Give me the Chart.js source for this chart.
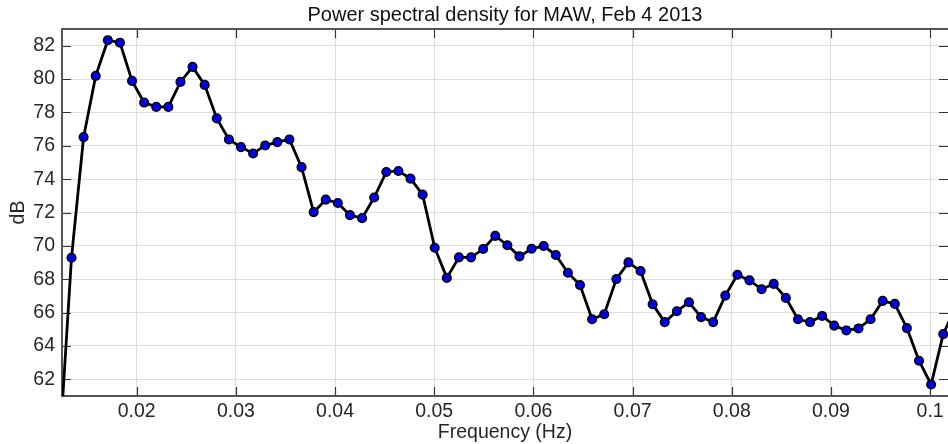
<!DOCTYPE html>
<html>
<head>
<meta charset="utf-8">
<script src="https://cdn.jsdelivr.net/npm/chart.js@4.4.1/dist/chart.umd.min.js"></script>
<style>
  html, body { margin: 0; padding: 0; background: #fff; }
  #wrap { width: 948px; height: 444px; }
</style>
</head>
<body>
<div id="wrap"><canvas id="psd" width="948" height="444"></canvas></div>
<script>
// frequency bins (Hz), df = 1/819.2
const freqHz = [
  0.012207, 0.013428, 0.014648, 0.015869, 0.017090, 0.018311, 0.019531, 0.020752, 0.021973, 0.023193,
  0.024414, 0.025635, 0.026855, 0.028076, 0.029297, 0.030518, 0.031738, 0.032959, 0.034180, 0.035400,
  0.036621, 0.037842, 0.039063, 0.040283, 0.041504, 0.042725, 0.043945, 0.045166, 0.046387, 0.047607,
  0.048828, 0.050049, 0.051270, 0.052490, 0.053711, 0.054932, 0.056152, 0.057373, 0.058594, 0.059814,
  0.061035, 0.062256, 0.063477, 0.064697, 0.065918, 0.067139, 0.068359, 0.069580, 0.070801, 0.072021,
  0.073242, 0.074463, 0.075684, 0.076904, 0.078125, 0.079346, 0.080566, 0.081787, 0.083008, 0.084229,
  0.085449, 0.086670, 0.087891, 0.089111, 0.090332, 0.091553, 0.092773, 0.093994, 0.095215, 0.096436,
  0.097656, 0.098877, 0.100098, 0.101318, 0.102539
]

// power spectral density (dB)
const psdDb = [
  57.7, 69.29, 76.52, 80.19, 82.33, 82.18, 79.89, 78.59, 78.33, 78.33,
  79.83, 80.73, 79.65, 77.64, 76.38, 75.92, 75.54, 76.02, 76.22, 76.38,
  74.72, 72.02, 72.77, 72.57, 71.84, 71.66, 72.9, 74.43, 74.49, 74.03,
  73.07, 69.89, 68.08, 69.31, 69.31, 69.81, 70.6, 70.04, 69.37, 69.83,
  69.99, 69.45, 68.39, 67.65, 65.6, 65.9, 68.01, 69.01, 68.49, 66.5,
  65.43, 66.08, 66.62, 65.73, 65.43, 67.02, 68.27, 67.93, 67.4, 67.72,
  66.88, 65.6, 65.43, 65.8, 65.22, 64.93, 65.05, 65.6, 66.7, 66.52,
  65.07, 63.11, 61.69, 64.71, 66.3
]

const xTicks = [0.02, 0.03, 0.04, 0.05, 0.06, 0.07, 0.08, 0.09, 0.1]
const xTickLabels = ['0.02', '0.03', '0.04', '0.05', '0.06', '0.07', '0.08', '0.09', '0.1']
const yTicks = [62, 64, 66, 68, 70, 72, 74, 76, 78, 80, 82]

const fontFamily = '"Liberation Sans", Arial, Helvetica, sans-serif'
const tickLen = 9

// box round the plot plus inward tick marks on all four sides
const axesFrame = {
  id: 'axesFrame',
  beforeDatasetsDraw(chart) {
    const {ctx, chartArea: {left, right, top, bottom}, scales: {x, y}} = chart
    ctx.save()
    ctx.strokeStyle = '#333'
    ctx.lineWidth = 1.2
    ctx.beginPath()
    xTicks.forEach(v => {
      const px = Math.round(x.getPixelForValue(v)) + 0.5
      ctx.moveTo(px, bottom)
      ctx.lineTo(px, bottom - tickLen)
      ctx.moveTo(px, top)
      ctx.lineTo(px, top + tickLen)
    })
    yTicks.forEach(v => {
      const py = Math.round(y.getPixelForValue(v)) + 0.5
      ctx.moveTo(left, py)
      ctx.lineTo(left + tickLen, py)
      ctx.moveTo(right, py)
      ctx.lineTo(right - tickLen, py)
    })
    ctx.stroke()

    ctx.strokeStyle = '#555'
    ctx.lineWidth = 2
    ctx.beginPath()
    ctx.moveTo(right + 1, top)
    ctx.lineTo(left, top)
    ctx.lineTo(left, bottom)
    ctx.lineTo(right + 1, bottom)
    ctx.stroke()
    ctx.restore()
  }
}

new Chart(document.getElementById('psd'), {
  type: 'line',
  data: {
    datasets: [{
      data: freqHz.map((f, i) => ({x: f, y: psdDb[i]})),
      borderColor: '#000',
      borderWidth: 2.8,
      tension: 0,
      clip: 0,
      pointRadius: 4.3,
      pointBorderWidth: 1.5,
      pointBackgroundColor: '#0000e8',
      pointBorderColor: '#000'
    }]
  },
  options: {
    responsive: false,
    animation: false,
    layout: {padding: 0, autoPadding: false},
    plugins: {
      legend: {display: false},
      tooltip: {enabled: false},
      title: {
        display: true,
        fullSize: false,
        text: 'Power spectral density for MAW, Feb 4 2013',
        color: '#111',
        font: {family: fontFamily, size: 20, weight: 'normal', lineHeight: 1.2},
        padding: {top: 3, bottom: 2}
      }
    },
    scales: {
      x: {
        type: 'linear',
        min: 0.01247,
        max: 0.1018,
        afterBuildTicks: scale => { scale.ticks = xTicks.map(v => ({value: v})) },
        afterFit: scale => {
          scale.height = 48
          scale.paddingLeft = 0
          scale.paddingRight = 0
        },
        ticks: {
          callback: (value, index) => xTickLabels[index],
          color: '#262626',
          font: {family: fontFamily, size: 19.5},
          padding: 4,
          maxRotation: 0,
          autoSkip: false
        },
        grid: {color: '#dddddd', lineWidth: 1, drawTicks: false},
        border: {display: false},
        title: {
          display: true,
          text: 'Frequency (Hz)',
          color: '#262626',
          font: {family: fontFamily, size: 19.5, lineHeight: 1.2},
          padding: {top: 0, bottom: 0}
        }
      },
      y: {
        min: 61,
        max: 83,
        afterBuildTicks: scale => { scale.ticks = yTicks.map(v => ({value: v})) },
        afterFit: scale => {
          scale.width = 62
          scale.paddingTop = 0
          scale.paddingBottom = 0
        },
        ticks: {
          color: '#262626',
          font: {family: fontFamily, size: 19.5},
          padding: 7
        },
        grid: {color: '#dddddd', lineWidth: 1, drawTicks: false},
        border: {display: false},
        title: {
          display: true,
          text: 'dB',
          color: '#262626',
          font: {family: fontFamily, size: 19.5, lineHeight: 1.2},
          padding: {top: 7, bottom: 0}
        }
      }
    }
  },
  plugins: [axesFrame]
})
</script>
</body>
</html>
